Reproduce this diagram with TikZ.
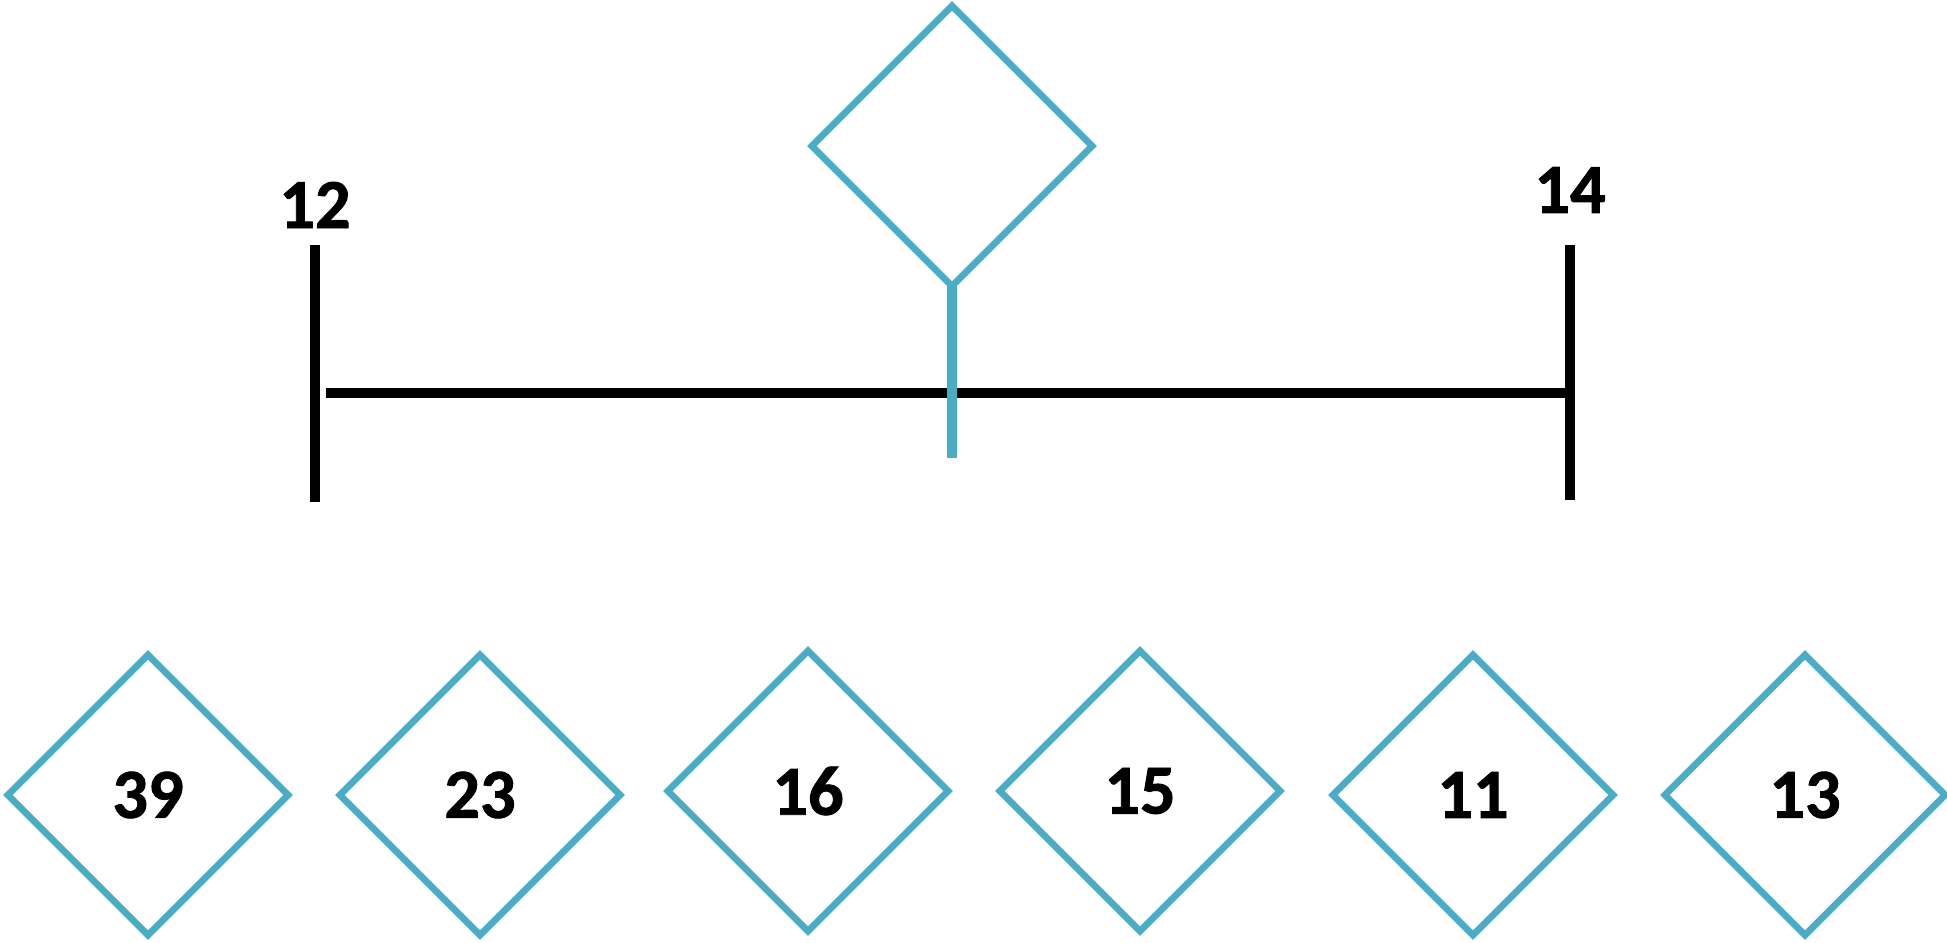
\documentclass[tikz,border=0pt]{standalone}
\usepackage{fontspec}
\setmainfont{Carlito}[BoldFeatures={FakeBold=1.2}]
\usetikzlibrary{shapes.geometric, positioning}
\definecolor{diacol}{HTML}{4BACC6}

\begin{document}
\begin{tikzpicture}[
  x=0.01cm, y=-0.01cm,
  dia/.style={
    diamond, aspect=1, draw=diacol, minimum size=2.8cm, inner sep=0pt,
    outer sep=0pt, line width=1.9pt, font=\fontsize{20}{24}\selectfont\bfseries
  },
  numlbl/.style={font=\fontsize{20}{24}\selectfont\bfseries, inner sep=0pt},
  bar/.style={line width=3.1pt, black},
  stem/.style={line width=2.9pt, diacol},
]
\useasboundingbox (0,0) rectangle (1947,943);

% ===== Scale: two end bars and the horizontal line =====
\coordinate (lbtop) at (315,245);
\coordinate (lbbot) at (315,502);
\coordinate (rbtop) at (1570,245);
\coordinate (rbbot) at (1570,500);
\coordinate (hstart) at (326,393);

\draw[bar] (lbtop) -- (lbbot);
\draw[bar] (rbtop) -- (rbbot);
\draw[bar] (hstart) -- (rbtop |- hstart);

\node[numlbl] (lab12) at (315,205) {12};
\node[numlbl] (lab14) at (1570,190) {14};

% ===== Marker diamond with its stem =====
\node[dia] (mark) at (952,146) {};
\coordinate (stemend) at (952,458);
\draw[stem] (mark.south) -- (stemend);

% ===== Row of numbered diamonds =====
\foreach \i/\x/\y/\n in {1/148/795/39, 2/480/795/23, 3/808/791/16,
                        4/1140/791/15, 5/1473/795/11, 6/1805/795/13}{
  \node[dia] (d\i) at (\x,\y) {\n};
}

\end{tikzpicture}
\end{document}
